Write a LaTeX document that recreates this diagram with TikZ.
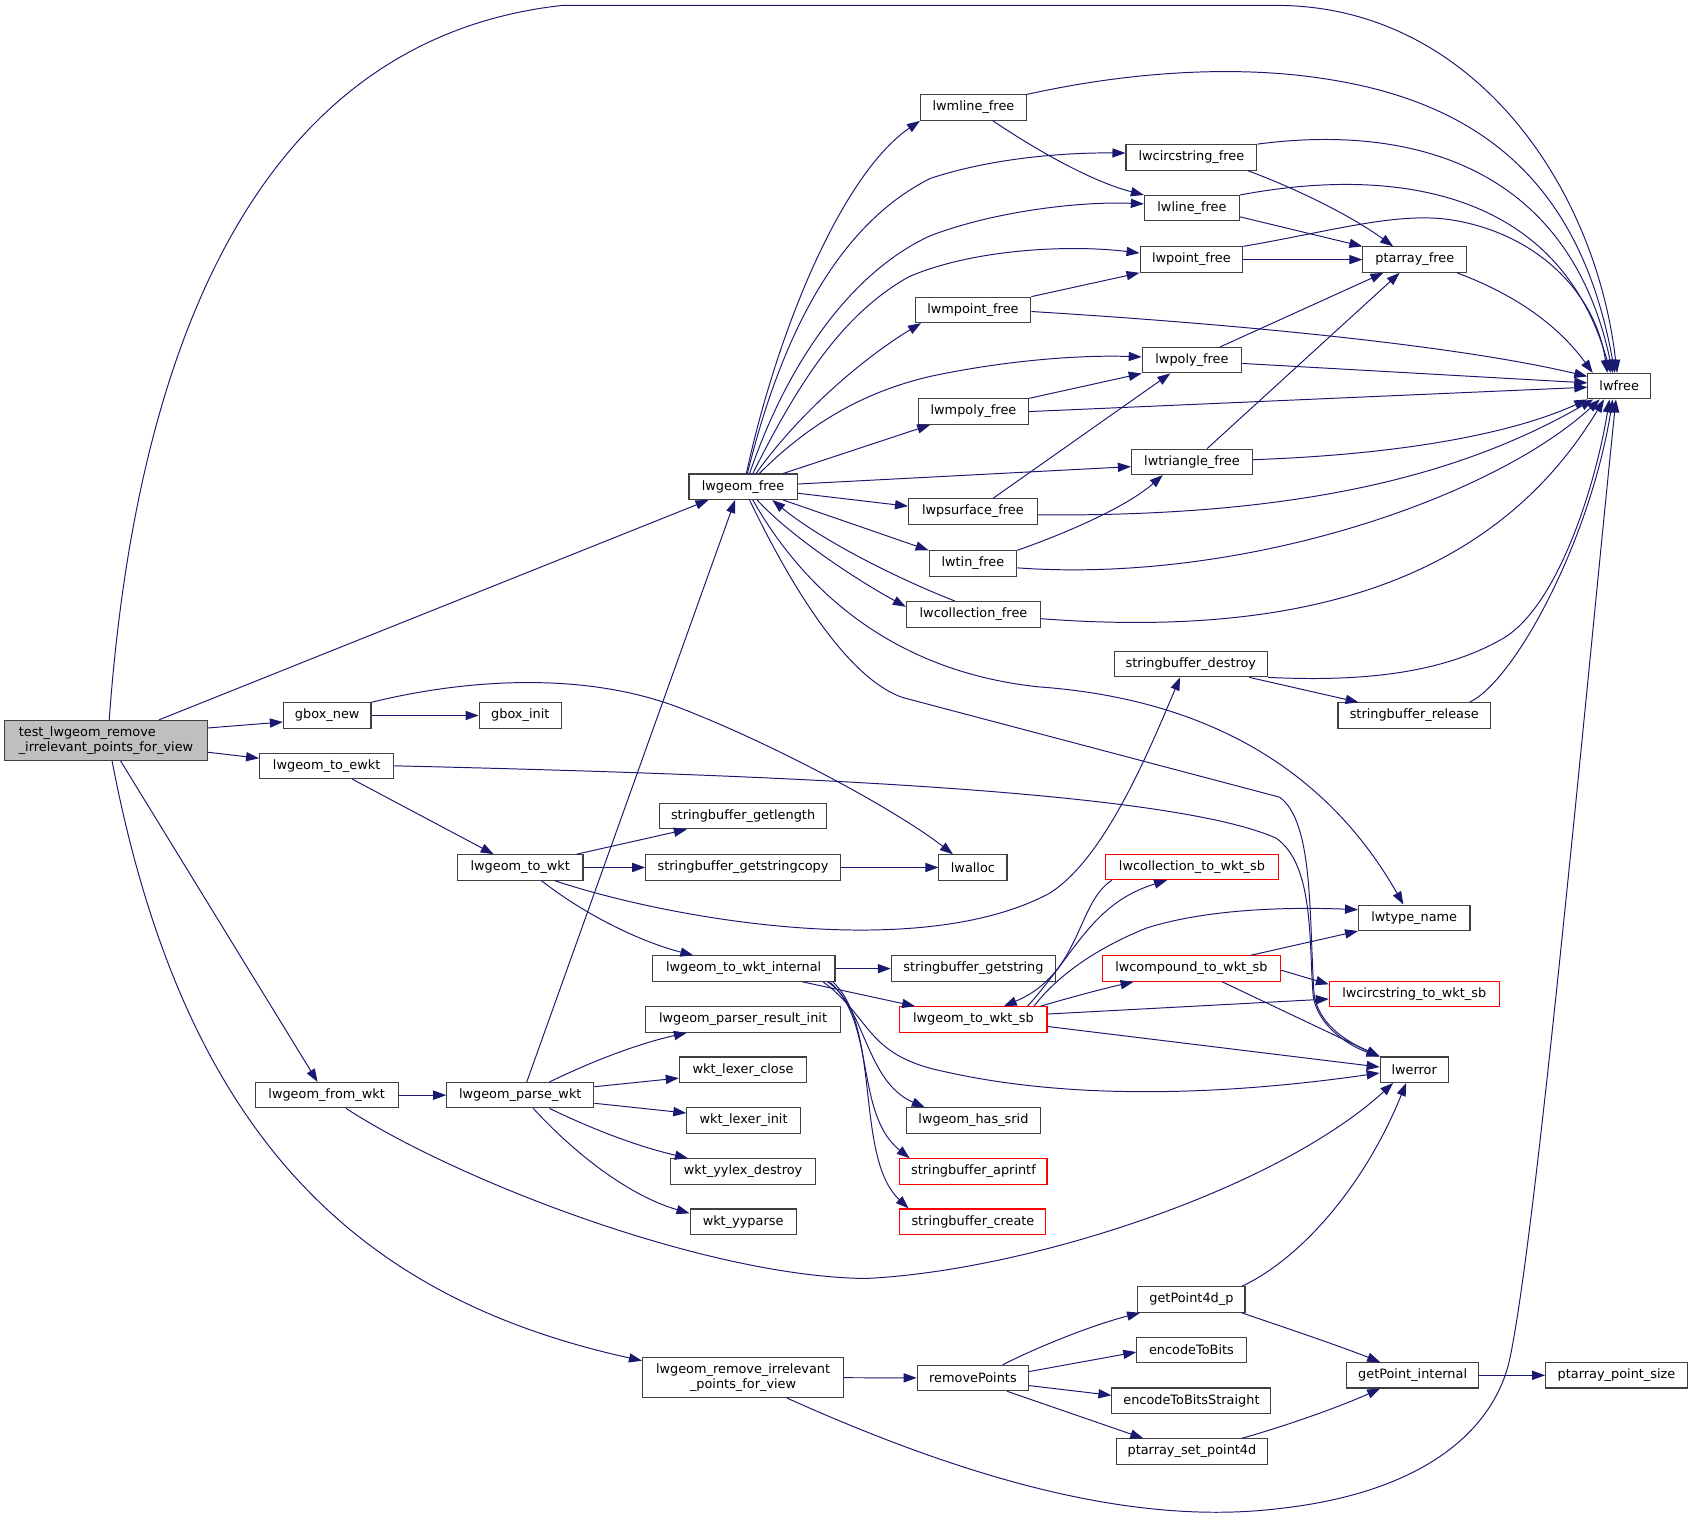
\documentclass[tikz,border=0pt]{standalone}
\usepackage{fontspec}
\newfontfamily\gfont[Ligatures=NoCommon]{DejaVu Sans}
\usetikzlibrary{arrows.meta}
\definecolor{edgeblue}{HTML}{191970}
\definecolor{nodegray}{HTML}{404040}
\definecolor{rootgray}{HTML}{BFBFBF}
\tikzset{
  fn/.style={draw=nodegray, line width=1pt, rectangle, inner sep=0pt, minimum height=23.5pt, text=black,
    font=\gfont\fontsize{11.9}{13.5}\selectfont},
  redfn/.style={fn, draw=red},
  rootfn/.style={fn, fill=rootgray, minimum height=37pt, align=left},
  twoline/.style={fn, minimum height=37pt, align=center},
  call/.style={draw=edgeblue, line width=0.9pt, -{Triangle[length=12pt,width=8.5pt]}},
}
\begin{document}
\begin{tikzpicture}[x=1pt,y=-1pt]
\path[fill=white, use as bounding box] (0,0) rectangle (1568,1402.5);

% nodes
\node[rootfn, minimum width=188pt] (test) at (98,684.5) {test\_lwgeom\_remove\\\_irrelevant\_points\_for\_view};
\node[fn, minimum width=100pt] (lgf) at (687,450) {lwgeom\_free};
\node[fn, minimum width=81pt] (gbn) at (302.5,661.5) {gbox\_new};
\node[fn, minimum width=76pt] (gbi) at (481,661.5) {gbox\_init};
\node[fn, minimum width=124pt] (ewkt) at (302,708) {lwgeom\_to\_ewkt};
\node[fn, minimum width=116pt] (towkt) at (481,802) {lwgeom\_to\_wkt};
\node[fn, minimum width=132pt] (fromwkt) at (302,1012.5) {lwgeom\_from\_wkt};
\node[fn, minimum width=136pt] (parse) at (481,1012.5) {lwgeom\_parse\_wkt};
\node[fn, minimum width=154pt] (sbgl) at (687,754.5) {stringbuffer\_getlength};
\node[fn, minimum width=180pt] (sbgsc) at (687,802) {stringbuffer\_getstringcopy};
\node[fn, minimum width=63pt] (lwalloc) at (899.5,802) {lwalloc};
\node[fn, minimum width=169pt] (internal) at (687.5,895.5) {lwgeom\_to\_wkt\_internal};
\node[fn, minimum width=152pt] (sbgs) at (900,895.5) {stringbuffer\_getstring};
\node[redfn, minimum width=136pt] (wktsb) at (900,942.5) {lwgeom\_to\_wkt\_sb};
\node[fn, minimum width=180pt] (pri) at (687,942.5) {lwgeom\_parser\_result\_init};
\node[fn, minimum width=118pt] (wlc) at (687,989) {wkt\_lexer\_close};
\node[fn, minimum width=105pt] (wli) at (687.5,1036) {wkt\_lexer\_init};
\node[fn, minimum width=124pt] (srid) at (900,1036) {lwgeom\_has\_srid};
\node[fn, minimum width=134pt] (wyd) at (687,1083) {wkt\_yylex\_destroy};
\node[redfn, minimum width=136pt] (sbap) at (900,1083) {stringbuffer\_aprintf};
\node[fn, minimum width=98pt] (wyp) at (687,1129.5) {wkt\_yyparse};
\node[redfn, minimum width=135pt] (sbc) at (899.5,1129.5) {stringbuffer\_create};
\node[twoline, minimum width=186pt] (lrm) at (687,1273.5) {lwgeom\_remove\_irrelevant\\\_points\_for\_view};
\node[fn, minimum width=103pt] (rp) at (899.5,1274) {removePoints};
\node[fn, minimum width=99pt] (gp4) at (1101.5,1201.5) {getPoint4d\_p};
\node[fn, minimum width=101pt] (etb) at (1101.5,1248) {encodeToBits};
\node[fn, minimum width=147pt] (etbs) at (1101.5,1295) {encodeToBitsStraight};
\node[fn, minimum width=140pt] (psp) at (1102,1342) {ptarray\_set\_point4d};
\node[fn, minimum width=122pt] (gpi) at (1306,1271.5) {getPoint\_internal};
\node[fn, minimum width=131pt] (pps) at (1494.5,1271.5) {ptarray\_point\_size};
\node[fn, minimum width=98pt] (mline) at (900,99.5) {lwmline\_free};
\node[fn, minimum width=121pt] (circ) at (1101.5,145.5) {lwcircstring\_free};
\node[fn, minimum width=88pt] (line) at (1102,192.5) {lwline\_free};
\node[fn, minimum width=95pt] (point) at (1101.5,240) {lwpoint\_free};
\node[fn, minimum width=96pt] (paf) at (1308,240) {ptarray\_free};
\node[fn, minimum width=107pt] (mpoint) at (899.5,286.5) {lwmpoint\_free};
\node[fn, minimum width=92pt] (poly) at (1102,333) {lwpoly\_free};
\node[fn, minimum width=58pt] (lwfree) at (1497,357) {lwfree};
\node[fn, minimum width=102pt] (mpoly) at (900,380.5) {lwmpoly\_free};
\node[fn, minimum width=112pt] (tri) at (1102,427) {lwtriangle\_free};
\node[fn, minimum width=119pt] (psurf) at (899.5,473) {lwpsurface\_free};
\node[fn, minimum width=81pt] (tin) at (899.5,521) {lwtin\_free};
\node[fn, minimum width=124pt] (coll) at (900,568) {lwcollection\_free};
\node[fn, minimum width=142pt] (sbd) at (1101,614) {stringbuffer\_destroy};
\node[fn, minimum width=141pt] (sbr) at (1307.5,661.5) {stringbuffer\_release};
\node[redfn, minimum width=160pt] (collsb) at (1102,801.5) {lwcollection\_to\_wkt\_sb};
\node[fn, minimum width=103pt] (tname) at (1307.5,848.5) {lwtype\_name};
\node[redfn, minimum width=165pt] (compsb) at (1101.5,895.5) {lwcompound\_to\_wkt\_sb};
\node[redfn, minimum width=157pt] (circsb) at (1307.5,919) {lwcircstring\_to\_wkt\_sb};
\node[fn, minimum width=63pt] (lwerror) at (1307.5,989) {lwerror};

% edges from the root
\draw[call] ([xshift=3pt]test.north) .. controls (120,400) and (200,40) .. (520,5) -- (1180,5) .. controls (1360,5) and (1475,170) .. ([xshift=-2pt]lwfree.north);
\draw[call] ([xshift=49pt]test.north) -- ([xshift=-32pt]lgf.south);
\draw[call] ([yshift=11.5pt]test.east) -- ([yshift=-6pt]gbn.west);
\draw[call] ([yshift=-11pt]test.east) -- ([yshift=7pt]ewkt.west);
\draw[call] ([xshift=13.5pt]test.south) -- ([xshift=-8.4pt]fromwkt.north);
\draw[call] ([xshift=5.6pt]test.south) .. controls (170,1050) and (330,1200) .. ([yshift=15.5pt]lrm.west);

% gbox_new, lwgeom_to_ewkt, lwgeom_to_wkt
\draw[call] (gbn) -- (gbi);
\draw[call] (gbn.north east) .. controls (430,628) and (540,620) .. (630,655) .. controls (720,690) and (830,750) .. ([xshift=-18.5pt]lwalloc.north);
\draw[call] ([xshift=23.5pt]ewkt.south) -- ([xshift=-24.6pt]towkt.north);
\draw[call] (ewkt.east) .. controls (700,716) and (1080,730) .. (1180,775) .. controls (1215,800) and (1210,870) .. (1214,920) .. controls (1218,950) and (1250,968) .. (lwerror.north west);
\draw[call] ([xshift=52pt]towkt.north) -- ([xshift=-52pt]sbgl.south);
\draw[call] (towkt) -- (sbgsc);
\draw[call] ([xshift=19.6pt]towkt.south) .. controls (540,845) and (590,870) .. ([xshift=-46.5pt]internal.north);
\draw[call] ([xshift=32pt]towkt.south) .. controls (620,850) and (850,890) .. (970,826) .. controls (1020,795) and (1060,700) .. ([xshift=-10pt]sbd.south);
\draw[call] (sbgsc) -- (lwalloc);

% lwgeom_to_wkt_internal
\draw[call] (internal) -- (sbgs);
\draw[call] ([xshift=54.5pt]internal.south) -- ([xshift=-54pt]wktsb.north);
\draw[call] ([xshift=73.5pt]internal.south) .. controls (805,940) and (800,975) .. (870,990) .. controls (1000,1020) and (1150,1010) .. ([yshift=-3pt]lwerror.west);
\draw[call] ([xshift=77.5pt]internal.south) .. controls (800,930) and (800,1000) .. ([xshift=-45pt]srid.north);
\draw[call] ([xshift=79.5pt]internal.south) .. controls (810,945) and (790,1030) .. ([xshift=-59pt]sbap.north);
\draw[call] ([xshift=82.5pt]internal.south) .. controls (815,950) and (790,1070) .. ([xshift=-59.5pt]sbc.north);

% lwgeom_to_wkt_sb and friends
\draw[call] ([xshift=50pt]wktsb.north) .. controls (995,880) and (1010,835) .. ([xshift=-23pt]collsb.south);
\draw[call] ([xshift=-74pt]collsb.south) .. controls (995,835) and (1000,900) .. ([xshift=28pt]wktsb.north);
\draw[call] ([xshift=62pt]wktsb.north) .. controls (990,922) and (1020,914) .. ([xshift=-53.5pt]compsb.south);
\draw[call] ([yshift=5pt]wktsb.east) -- ([yshift=-4.6pt]circsb.west);
\draw[call] ([yshift=-6.5pt]wktsb.east) -- ([yshift=2.5pt]lwerror.west);
\draw[call] ([xshift=56pt]wktsb.north) .. controls (975,905) and (1010,878) .. (1060,858) .. controls (1110,842) and (1180,838) .. ([yshift=7.5pt]tname.west);
\draw[call] ([xshift=54.5pt]compsb.north) -- (tname.south west);
\draw[call] ([yshift=-1.5pt]compsb.east) -- ([yshift=9pt]circsb.west);
\draw[call] ([xshift=28.5pt]compsb.south) -- (lwerror.north west);

% lwgeom_parse_wkt, lwgeom_from_wkt
\draw[call] ([xshift=6pt]parse.north) -- ([xshift=-7.4pt]lgf.south);
\draw[call] ([xshift=27pt]parse.north) .. controls (550,980) and (590,965) .. ([xshift=-52pt]pri.south);
\draw[call] ([yshift=7.8pt]parse.east) -- ([yshift=-7.7pt]wlc.west);
\draw[call] ([yshift=-7.5pt]parse.east) -- ([yshift=7pt]wli.west);
\draw[call] ([xshift=27pt]parse.south) .. controls (550,1045) and (590,1060) .. ([xshift=-51pt]wyd.north);
\draw[call] ([xshift=12pt]parse.south) .. controls (530,1065) and (580,1105) .. ([yshift=7.8pt]wyp.west);
\draw[call] (fromwkt) -- (parse);
\draw[call] ([xshift=18pt]fromwkt.south) .. controls (420,1090) and (650,1180) .. (800,1182) .. controls (950,1175) and (1180,1100) .. ([xshift=-19.5pt]lwerror.south);

% lwgeom_remove_irrelevant_points_for_view
\draw[call] (lrm) -- (rp);
\draw[call] ([xshift=40.5pt]lrm.south) .. controls (900,1370) and (1050,1410) .. (1180,1395) .. controls (1320,1380) and (1380,1320) .. (1395,1260) .. controls (1420,1150) and (1470,600) .. ([xshift=-3pt]lwfree.south);
\draw[call] ([xshift=27.5pt]rp.north) .. controls (960,1245) and (1010,1225) .. ([xshift=-47.5pt]gp4.south);
\draw[call] ([yshift=6pt]rp.east) -- ([yshift=-2pt]etb.west);
\draw[call] ([yshift=-7pt]rp.east) -- ([yshift=5pt]etbs.west);
\draw[call] ([xshift=31.5pt]rp.south) -- ([xshift=-45pt]psp.north);
\draw[call] ([xshift=46.5pt]gp4.south) .. controls (1190,1228) and (1240,1245) .. ([xshift=-30pt]gpi.north);
\draw[call] ([xshift=46.5pt]gp4.north) .. controls (1200,1165) and (1260,1100) .. ([xshift=-7.5pt]lwerror.south);
\draw[call] ([xshift=46pt]psp.north) .. controls (1190,1318) and (1240,1300) .. ([xshift=-30pt]gpi.south);
\draw[call] (gpi) -- (pps);

% lwgeom_free fan
\draw[call] ([xshift=3pt]lgf.north) .. controls (720,300) and (780,160) .. (mline.south west);
\draw[call] ([xshift=4pt]lgf.north) .. controls (720,320) and (770,210) .. (860,165) .. controls (920,145) and (990,141) .. ([yshift=4pt]circ.west);
\draw[call] ([xshift=6pt]lgf.north) .. controls (730,330) and (790,250) .. (860,218) .. controls (920,195) and (1000,186) .. ([yshift=4pt]line.west);
\draw[call] ([xshift=9pt]lgf.north) .. controls (740,350) and (780,290) .. (840,256) .. controls (900,230) and (990,226) .. ([yshift=6pt]point.west);
\draw[call] ([xshift=12pt]lgf.north) .. controls (740,380) and (800,330) .. ([xshift=6pt]mpoint.south west);
\draw[call] ([xshift=15pt]lgf.north) .. controls (750,390) and (800,362) .. (860,348) .. controls (930,333) and (1000,328) .. ([yshift=3pt]poly.west);
\draw[call] ([xshift=37pt]lgf.north) -- ([xshift=-40pt]mpoly.south);
\draw[call] ([yshift=2.5pt]lgf.east) -- ([yshift=-4.4pt]tri.west);
\draw[call] ([yshift=-6pt]lgf.east) -- ([yshift=5pt]psurf.west);
\draw[call] ([xshift=37pt]lgf.south) -- (tin.north west);
\draw[call] ([xshift=13pt]lgf.south) .. controls (730,495) and (790,535) .. ([yshift=7pt]coll.west);
\draw[call] ([xshift=-17pt]coll.north) .. controls (830,535) and (760,500) .. ([xshift=27pt]lgf.south);
\draw[call] ([xshift=9pt]lgf.south) .. controls (740,540) and (820,620) .. (960,635) .. controls (1100,645) and (1220,700) .. ([xshift=-10pt]tname.north);
\draw[call] ([xshift=6pt]lgf.south) .. controls (740,560) and (790,630) .. (835,645) -- (1183,737) .. controls (1215,760) and (1210,850) .. (1215,920) .. controls (1220,950) and (1250,965) .. (lwerror.north west);

% free functions
\draw[call] ([xshift=18pt]mline.south) .. controls (960,140) and (1010,168) .. (line.north west);
\draw[call] (mline.north east) .. controls (1050,65) and (1150,60) .. (1232,74) .. controls (1390,100) and (1465,190) .. ([xshift=-4pt]lwfree.north);
\draw[call] ([xshift=52pt]circ.south) .. controls (1200,175) and (1250,200) .. ([xshift=-20pt]paf.north);
\draw[call] (circ.north east) .. controls (1300,115) and (1450,150) .. ([xshift=-6pt]lwfree.north);
\draw[call] ([yshift=-8pt]line.east) -- (paf.north west);
\draw[call] (line.north east) .. controls (1280,155) and (1440,170) .. ([xshift=-8pt]lwfree.north);
\draw[call] (point) -- (paf);
\draw[call] (point.north east) .. controls (1230,214) and (1290,196) .. (1340,203) .. controls (1420,215) and (1475,270) .. ([xshift=-11pt]lwfree.north);
\draw[call] ([xshift=39pt]paf.south) .. controls (1400,272) and (1440,300) .. ([xshift=5pt]lwfree.north west);
\draw[call] (mpoint.north east) -- (point.south west);
\draw[call] ([yshift=-1.5pt]mpoint.east) .. controls (1150,300) and (1350,320) .. ([yshift=9pt]lwfree.west);
\draw[call] ([xshift=26pt]poly.north) -- ([xshift=-29pt]paf.south);
\draw[call] ([yshift=-3pt]poly.east) -- ([yshift=3pt]lwfree.west);
\draw[call] (mpoly.north east) -- (poly.south west);
\draw[call] (mpoly.east) -- ([yshift=-1pt]lwfree.west);
\draw[call] ([xshift=14pt]tri.north) -- ([xshift=-14pt]paf.south);
\draw[call] ([yshift=2pt]tri.east) .. controls (1300,420) and (1400,400) .. (lwfree.south west);
\draw[call] ([xshift=18.5pt]psurf.north) -- ([xshift=-20pt]poly.south);
\draw[call] ([yshift=-3pt]psurf.east) .. controls (1200,478) and (1350,440) .. ([xshift=-24pt]lwfree.south);
\draw[call] (tin.north east) .. controls (980,495) and (1040,470) .. ([xshift=-27pt]tri.south);
\draw[call] ([yshift=-4pt]tin.east) .. controls (1150,540) and (1380,460) .. ([xshift=-18pt]lwfree.south);
\draw[call] ([yshift=-4pt]coll.east) .. controls (1200,590) and (1380,540) .. ([xshift=-14pt]lwfree.south);
\draw[call] ([xshift=54pt]sbd.south) -- ([xshift=-51.5pt]sbr.north);
\draw[call] (sbd.south east) .. controls (1250,630) and (1330,625) .. (1390,590) .. controls (1440,560) and (1475,450) .. ([xshift=-9pt]lwfree.south);
\draw[call] ([xshift=51pt]sbr.north) .. controls (1400,630) and (1470,500) .. ([xshift=-6pt]lwfree.south);
\end{tikzpicture}
\end{document}
